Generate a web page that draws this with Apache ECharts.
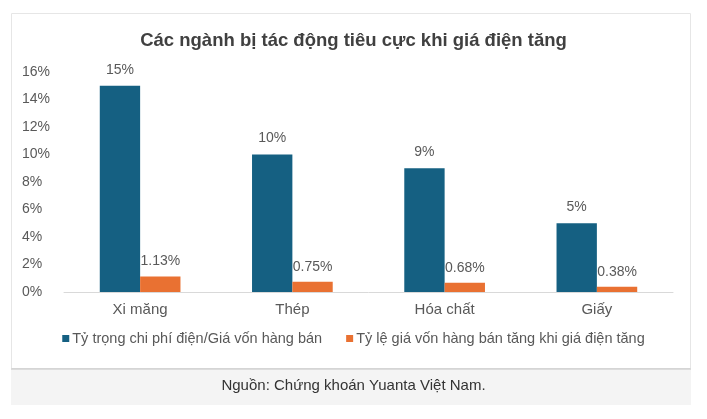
<!DOCTYPE html>
<html>
<head>
<meta charset="utf-8">
<script src="https://cdn.jsdelivr.net/npm/echarts@6/dist/echarts.min.js"></script>
<style>
  html, body { margin: 0; padding: 0; background: #ffffff; }
  #chart { width: 707px; height: 419px; }
</style>
</head>
<body>
<div id="chart"></div>
<script>
// du lieu doc tu hinh
const categories = ["Xi măng", "Thép", "Hóa chất", "Giấy"];
const costShare = [15, 10, 9, 5];          // Tỷ trọng chi phí điện/Giá vốn hàng bán (%)
const costIncrease = [1.13, 0.75, 0.68, 0.38]; // Tỷ lệ giá vốn hàng bán tăng (%)
const seriesNames = ["Tỷ trọng chi phí điện/Giá vốn hàng bán", "Tỷ lệ giá vốn hàng bán tăng khi giá điện tăng"];
const yTicks = [0, 2, 4, 6, 8, 10, 12, 14, 16];

const font = "'Liberation Sans', Arial, sans-serif";
let myChar = echarts.init(document.getElementById("chart"));

myChar.setOption({
    backgroundColor: "#ffffff",
    textStyle: { fontFamily: font },
    graphic: [
        {
            type: "rect", z: -10, silent: true,
            shape: { x: 11.5, y: 13.5, width: 679, height: 355 },
            style: { fill: "#ffffff", stroke: "#e6e6e6", lineWidth: 1 }
        },
        {
            type: "rect", z: -10, silent: true,
            shape: { x: 11, y: 369, width: 680, height: 36 },
            style: { fill: "#f4f4f4" }
        },
        {
            type: "line", z: -9, silent: true,
            shape: { x1: 11, y1: 369, x2: 691, y2: 369 },
            style: { stroke: "#c4c4c4", lineWidth: 1 }
        },
        {
            type: "text", silent: true,
            left: "center", top: 378,
            style: { text: "Nguồn: Chứng khoán Yuanta Việt Nam.", font: "15px " + font, fill: "#333333" }
        }
    ],
    title: {
        text: "Các ngành bị tác động tiêu cực khi giá điện tăng",
        left: "center",
        top: 26,
        textStyle: { fontSize: 18.5, fontWeight: "bold", color: "#404040", fontFamily: font }
    },
    legend: {
        data: seriesNames,
        left: "center",
        top: 326,
        itemWidth: 7,
        itemHeight: 7,
        itemGap: 24,
        icon: "rect",
        textStyle: { fontSize: 14.5, color: "#595959", fontFamily: font, padding: [0, 0, 0, -2] }
    },
    grid: { left: 64, right: 34, top: 72, bottom: 127, containLabel: false },
    xAxis: {
        type: "category",
        data: categories,
        axisLine: { lineStyle: { color: "#d9d9d9", width: 1 } },
        axisTick: { show: false },
        axisLabel: { fontSize: 15, color: "#595959", margin: 10 }
    },
    yAxis: {
        type: "value",
        min: yTicks[0],
        max: yTicks[yTicks.length - 1],
        interval: 2,
        splitLine: { show: false },
        axisLine: { show: false },
        axisTick: { show: false },
        axisLabel: { fontSize: 14, color: "#595959", formatter: "{value}%", align: "left", margin: 42 }
    },
    series: [
        {
            name: seriesNames[0],
            type: "bar",
            data: costShare,
            barGap: "0%",
            barCategoryGap: "47%",
            itemStyle: { color: "#156082" },
            label: { show: true, position: "top", distance: 9, formatter: "{c}%", fontSize: 14, color: "#595959" }
        },
        {
            name: seriesNames[1],
            type: "bar",
            data: costIncrease,
            itemStyle: { color: "#e97132" },
            label: { show: true, position: "top", distance: 8, formatter: (p) => p.value.toFixed(2) + "%", fontSize: 14, color: "#595959" }
        }
    ]
});
</script>
</body>
</html>
